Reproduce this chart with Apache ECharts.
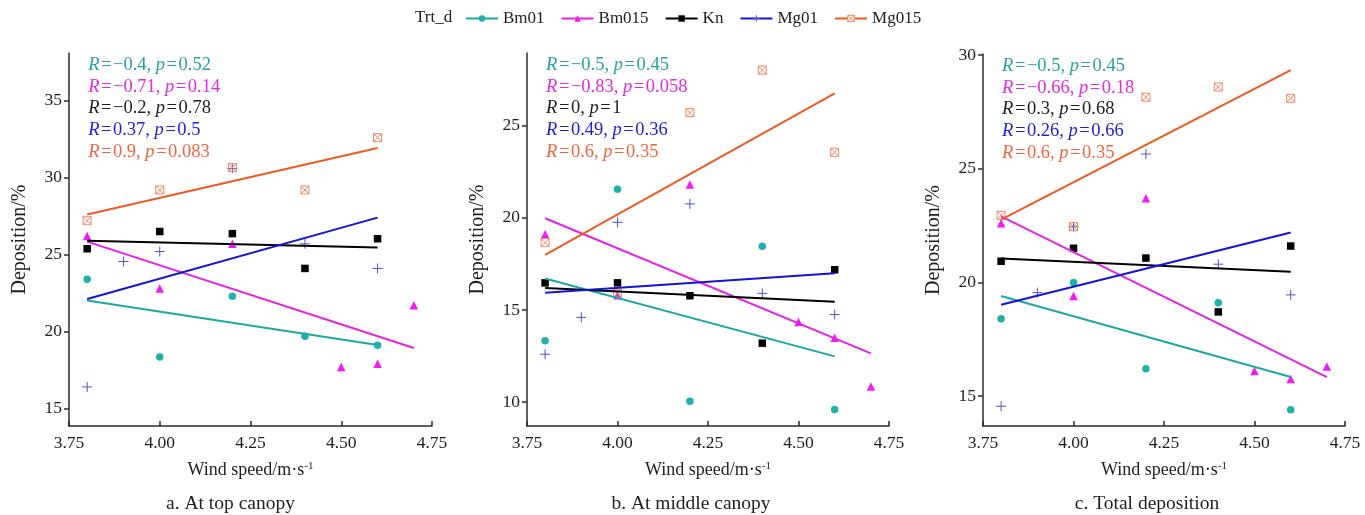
<!DOCTYPE html>
<html>
<head>
<meta charset="utf-8">
<script src="https://cdn.jsdelivr.net/npm/echarts@6/dist/echarts.min.js"></script>
<style>
  html, body { margin: 0; padding: 0; background: #ffffff; }
  #chart { width: 1365px; height: 515px; }
</style>
</head>
<body>
<div id="chart"></div>
<script>
// ---- data -------------------------------------------------------------
const groups = ['Bm01', 'Bm015', 'Kn', 'Mg01', 'Mg015'];

// wind speed (m/s) at which each treatment was sampled
const windBm01  = [3.8, 4.0, 4.2, 4.4, 4.6];
const windBm015 = [3.8, 4.0, 4.2, 4.5, 4.6, 4.7];
const windKn    = [3.8, 4.0, 4.2, 4.4, 4.6];
const windMg01  = [3.8, 3.9, 4.0, 4.2, 4.4, 4.6];
const windMg015 = [3.8, 4.0, 4.2, 4.4, 4.6];

// deposition (%) at top canopy
const topBm01  = [23.4, 18.35, 22.3, 19.7, 19.1];
const topBm015 = [26.2, 22.8, 25.7, 17.7, 17.9, 21.7];
const topKn    = [25.38, 26.5, 26.36, 24.1, 26.03];
const topMg01  = [16.4, 24.55, 25.2, 30.6, 25.7, 24.1];
const topMg015 = [27.2, 29.2, 30.65, 29.2, 32.6];

// deposition (%) at middle canopy
const midBm01  = [13.33, 21.55, 10.05, 18.45, 9.6];
const midBm015 = [19.1, 15.8, 21.8, 14.35, 13.5, 10.85];
const midKn    = [16.47, 16.47, 15.77, 13.2, 17.18];
const midMg01  = [12.6, 14.6, 19.75, 20.75, 15.9, 14.75];
const midMg015 = [18.65, 15.9, 25.7, 28.0, 23.55];

// total deposition (%)
const totBm01  = [18.4, 20.0, 16.2, 19.1, 14.4];
const totBm015 = [22.6, 19.4, 23.7, 16.1, 15.75, 16.3];
const totKn    = [20.93, 21.5, 21.07, 18.7, 21.6];
const totMg01  = [14.55, 19.55, 22.45, 25.65, 20.8, 19.45];
const totMg015 = [22.95, 22.45, 28.15, 28.6, 28.1];

// correlation statistics printed in each panel (Bm01, Bm015, Kn, Mg01, Mg015)
const topR = ['\u22120.4', '\u22120.71', '\u22120.2', '0.37', '0.9'];
const topP = ['0.52', '0.14', '0.78', '0.5', '0.083'];
const midR = ['\u22120.5', '\u22120.83', '0', '0.49', '0.6'];
const midP = ['0.45', '0.058', '1', '0.36', '0.35'];
const totR = ['\u22120.5', '\u22120.66', '0.3', '0.26', '0.6'];
const totP = ['0.45', '0.18', '0.68', '0.66', '0.35'];

// tick labels
const xTicks      = [3.75, 4.0, 4.25, 4.5, 4.75];
const yTicksTop   = [15, 20, 25, 30, 35];
const yTicksMid   = [10, 15, 20, 25];
const yTicksTot   = [15, 20, 25, 30];

const panelCaptions = ['a. At top canopy', 'b. At middle canopy', 'c. Total deposition'];
const legendTitle = 'Trt_d';
const xName = 'Wind speed/m\u00b7s{sup|-1}';
const yName = 'Deposition/%';

// ---- assembly ---------------------------------------------------------
const winds = [windBm01, windBm015, windKn, windMg01, windMg015];
const panels = [
  { values: [topBm01, topBm015, topKn, topMg01, topMg015], r: topR, p: topP, ticks: yTicksTop },
  { values: [midBm01, midBm015, midKn, midMg01, midMg015], r: midR, p: midP, ticks: yTicksMid },
  { values: [totBm01, totBm015, totKn, totMg01, totMg015], r: totR, p: totP, ticks: yTicksTot }
];

// styling
const FONT = '"Liberation Serif", "Times New Roman", serif';
const TEXT = '#1e1e1e';
const AXIS = '#2b2b2b';
const lineColors = ['#1ba9a6', '#e522e5', '#000000', '#1414d4', '#f05a22'];
const textColors = ['#27a39b', '#e22ae2', '#1e1e1e', '#2222d2', '#f0653d'];
const plusPath  = 'path://M5,0L5,10M0,5L10,5';
const boxXPath  = 'path://M0,0L10,0L10,10L0,10Z M0,0L10,10 M10,0L0,10';
const markers = [
  { symbol: 'circle',   size: 7.5, item: { color: '#1fb0ae' } },
  { symbol: 'triangle', size: 8.5, item: { color: '#f21cf2' } },
  { symbol: 'rect',     size: 7.5, item: { color: '#000000' } },
  { symbol: plusPath,   size: 10,  item: { color: 'rgba(0,0,0,0)', borderColor: '#5252d6', borderWidth: 1 } },
  { symbol: boxXPath,   size: 8,   item: { color: 'rgba(255,255,255,0)', borderColor: '#ec8866', borderWidth: 1 } }
];

// plot areas and value ranges of the three panels
const grids = [
  { left: 69,  top: 53, width: 363, height: 373 },
  { left: 527, top: 53, width: 362, height: 373 },
  { left: 983, top: 54, width: 362, height: 372 }
];
const yRanges = [[13.86, 38.1], [8.71, 28.93], [13.68, 30.05]];
const captionShift = [-20, -17, -17];

// least-squares line over the sampled wind range
function fitLine(xs, ys) {
  const n = xs.length;
  const mx = xs.reduce((a, b) => a + b, 0) / n;
  const my = ys.reduce((a, b) => a + b, 0) / n;
  let sxy = 0, sxx = 0;
  for (let i = 0; i < n; i++) {
    sxy += (xs[i] - mx) * (ys[i] - my);
    sxx += (xs[i] - mx) * (xs[i] - mx);
  }
  const slope = sxy / sxx;
  const x0 = Math.min(...xs), x1 = Math.max(...xs);
  return [[x0, my + slope * (x0 - mx)], [x1, my + slope * (x1 - mx)]];
}

const xAxes = [], yAxes = [], series = [];
panels.forEach((panel, pi) => {
  xAxes.push({
    type: 'value', gridIndex: pi, min: 3.75, max: 4.75, interval: 0.25,
    axisLine: { show: true, lineStyle: { color: AXIS, width: 1.5 } },
    axisTick: { show: true, inside: true, length: 5, lineStyle: { color: AXIS, width: 1.5 } },
    axisLabel: {
      customValues: xTicks,
      formatter: v => Number(v).toFixed(2),
      fontFamily: FONT, fontSize: 17.5, color: TEXT, margin: 8
    },
    splitLine: { show: false },
    name: xName, nameLocation: 'middle', nameGap: 35,
    nameTextStyle: {
      fontFamily: FONT, fontSize: 18, color: TEXT, lineHeight: 19,
      rich: { sup: { fontFamily: FONT, fontSize: 11, color: TEXT, verticalAlign: 'top', lineHeight: 19 } }
    }
  });
  yAxes.push({
    type: 'value', gridIndex: pi, min: yRanges[pi][0], max: yRanges[pi][1],
    axisLine: { show: true, lineStyle: { color: AXIS, width: 1.5 } },
    axisTick: { show: true, inside: false, length: 5, customValues: panel.ticks, lineStyle: { color: AXIS, width: 1.5 } },
    axisLabel: { customValues: panel.ticks, fontFamily: FONT, fontSize: 17.5, color: TEXT, margin: 7 },
    splitLine: { show: false },
    name: yName, nameLocation: 'middle', nameGap: 39, nameRotate: 90,
    nameTextStyle: { fontFamily: FONT, fontSize: 20, color: TEXT }
  });

  groups.forEach((g, gi) => {
    const xs = winds[gi], ys = panel.values[gi];
    const m = markers[gi];
    series.push({
      type: 'line', name: g, xAxisIndex: pi, yAxisIndex: pi, z: 4,
      data: fitLine(xs, ys),
      showSymbol: false, symbol: m.symbol, symbolSize: m.size,
      itemStyle: Object.assign({}, m.item),
      lineStyle: { color: lineColors[gi], width: 2 },
      silent: true, animation: false
    });
  });
  groups.forEach((g, gi) => {
    const xs = winds[gi], ys = panel.values[gi];
    const m = markers[gi];
    series.push({
      type: 'scatter', name: g, xAxisIndex: pi, yAxisIndex: pi, z: 3,
      data: xs.map((x, i) => [x, ys[i]]),
      symbol: m.symbol, symbolSize: m.size,
      itemStyle: Object.assign({ opacity: 1 }, m.item),
      silent: true, animation: false
    });
  });
});

const chart = echarts.init(document.getElementById('chart'), null, { renderer: 'canvas' });
chart.setOption({
  animation: false,
  backgroundColor: '#ffffff',
  grid: grids,
  xAxis: xAxes,
  yAxis: yAxes,
  legend: {
    data: groups.map((g, gi) => ({
      name: g,
      itemStyle: Object.assign({ color: '#ffffff', borderWidth: 0 }, markers[gi].item,
        gi === 4 ? { color: '#ffffff' } : {}),
      lineStyle: { color: lineColors[gi], width: 2 }
    })),
    left: 460, top: 5, itemGap: 16, itemWidth: 32, itemHeight: 8,
    textStyle: { fontFamily: FONT, fontSize: 17, color: TEXT },
    selectedMode: false
  },
  series: series
});

// statistics text anchored at the first sampled wind speed, plus captions
const EQ = '\u200a=\u200a';
const graphics = [{
  type: 'text', left: 415, top: 9,
  style: { text: legendTitle, fontFamily: FONT, fontSize: 17, fill: TEXT }
}];
panels.forEach((panel, pi) => {
  const rich = {};
  const lines = groups.map((g, gi) => {
    rich['i' + gi] = { fontFamily: FONT, fontSize: 18.5, fontStyle: 'italic', fill: textColors[gi], lineHeight: 21.8 };
    rich['n' + gi] = { fontFamily: FONT, fontSize: 18.5, fill: textColors[gi], lineHeight: 21.8 };
    return '{i' + gi + '|R}{n' + gi + '|' + EQ + panel.r[gi] + ', }{i' + gi + '|p}{n' + gi + '|' + EQ + panel.p[gi] + '}';
  });
  const px = chart.convertToPixel({ xAxisIndex: pi }, Math.min(...windBm01));
  graphics.push({
    type: 'text', x: px + 1, y: grids[pi].top + 1, z: 10,
    style: { text: lines.join('\n'), rich: rich, fontFamily: FONT, fontSize: 18.5, lineHeight: 21.8 }
  });
  graphics.push({
    type: 'text', x: grids[pi].left + grids[pi].width / 2 + captionShift[pi], y: 504,
    style: { text: panelCaptions[pi], fontFamily: FONT, fontSize: 19.5, fill: TEXT, textAlign: 'center', textVerticalAlign: 'middle' }
  });
});
chart.setOption({ graphic: graphics });
</script>
</body>
</html>
